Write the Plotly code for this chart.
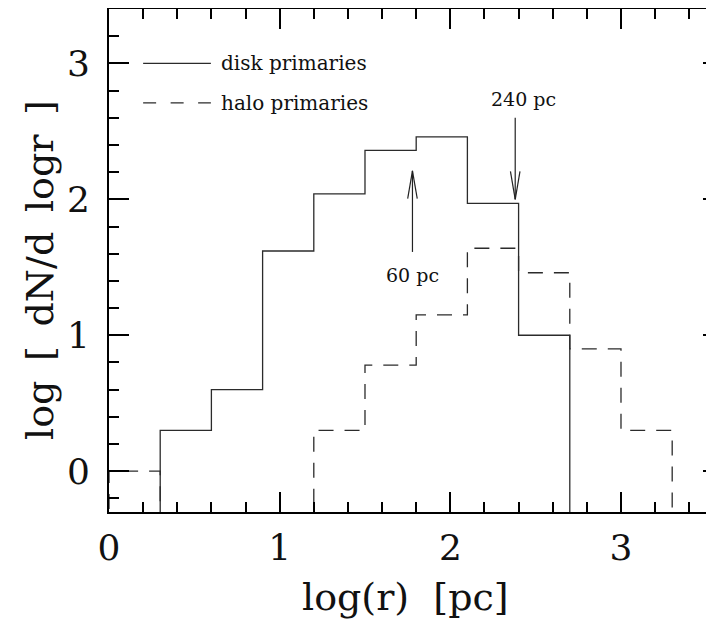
import math
import plotly.graph_objects as go

# ---------------- data ----------------
bin_edges = [0.0, 0.3, 0.6, 0.9, 1.2, 1.5, 1.8, 2.1, 2.4, 2.7, 3.0, 3.3]
disk_values = [None, 0.30, 0.60, 1.62, 2.04, 2.36, 2.46, 1.97, 1.00, None, None]
halo_values = [0.0, None, None, None, 0.30, 0.78, 1.15, 1.64, 1.46, 0.90, 0.30]
series_names = ["disk primaries", "halo primaries"]
x_tick_values = [0, 1, 2, 3]
y_tick_values = [0, 1, 2, 3]
marker_labels = ["240 pc", "60 pc"]
marker_radii_pc = [240, 60]

FLOOR = -2.0  # below the visible range (empty bins)
X_RANGE = [0, 3.545]
Y_RANGE = [-0.3, 3.4]
LINE_COLOR = "#2b2b2b"
SERIF = "DejaVu Serif"

# the page body has an 8px margin; size the figure so the plot lands where the reference has it
PAGE_OFFSET = 8


def step_path(edges, values):
    vals = [FLOOR if v is None else v for v in values]
    xs = [edges[0]] + list(edges[:-1]) + [edges[-1], edges[-1]]
    ys = [FLOOR] + vals + [vals[-1], FLOOR]
    return xs, ys


fig = go.Figure()

dx, dy = step_path(bin_edges, disk_values)
fig.add_trace(go.Scatter(x=dx, y=dy, mode="lines", line_shape="hv",
                         line=dict(color=LINE_COLOR, width=1.3),
                         name=series_names[0], showlegend=False))
hx, hy = step_path(bin_edges, halo_values)
fig.add_trace(go.Scatter(x=hx, y=hy, mode="lines", line_shape="hv",
                         line=dict(color=LINE_COLOR, width=1.3, dash="15px,11px"),
                         name=series_names[1], showlegend=False))
# dummy trace for the right-hand (partly cut) tick axis
fig.add_trace(go.Scatter(x=[], y=[], yaxis="y2", showlegend=False))

# ---------------- legend (drawn in the plot) ----------------
leg_x0, leg_x1, leg_tx = 0.20, 0.597, 0.645
leg_y = [3.0, 2.71]
leg_dash = ["solid", "13px,14.5px"]
for name, yv, dsh in zip(series_names, leg_y, leg_dash):
    fig.add_shape(type="line", xref="x", yref="y", x0=leg_x0, x1=leg_x1, y0=yv, y1=yv,
                  line=dict(color=LINE_COLOR, width=1.3, dash=dsh))
    fig.add_annotation(x=leg_tx, y=yv, xref="x", yref="y", text=name, showarrow=False,
                       xanchor="left", yanchor="middle",
                       font=dict(family=SERIF, size=20, color="#111"))

# ---------------- arrows ----------------
head_len = 0.205
head_half = 0.028
arrow_specs = [  # (stem start y, tip y, label y)
    (2.60, 2.00, 2.74),
    (1.613, 2.21, 1.446),
]
label_dx = [0.05, 0.0]
for lab, r, (y_start, y_tip, y_lab), ldx in zip(marker_labels, marker_radii_pc, arrow_specs, label_dx):
    xv = math.log10(r)
    sgn = 1 if y_start > y_tip else -1
    fig.add_shape(type="line", xref="x", yref="y", x0=xv, x1=xv, y0=y_start, y1=y_tip,
                  line=dict(color="#222", width=1.2))
    for s in (-1, 1):
        fig.add_shape(type="line", xref="x", yref="y", x0=xv + s * head_half,
                      y0=y_tip + sgn * head_len, x1=xv, y1=y_tip,
                      line=dict(color="#222", width=1.2))
    fig.add_annotation(x=xv + ldx, y=y_lab, xref="x", yref="y", text=lab, showarrow=False,
                       xanchor="center", yanchor="middle",
                       font=dict(family=SERIF, size=19, color="#111"))

# ---------------- axis titles ----------------
W, H = 714 - PAGE_OFFSET, 621 - PAGE_OFFSET
ML, MT, MB, MR = 109 - PAGE_OFFSET, 9 - PAGE_OFFSET, 109, 0
PW, PH = W - ML - MR, H - MT - MB


def px_to_paper(px, py):
    """window pixel -> paper coords"""
    fx = px - PAGE_OFFSET
    fy = py - PAGE_OFFSET
    return (fx - ML) / PW, (H - MB - fy) / PH


tx, ty = px_to_paper(405, 597)
fig.add_annotation(x=tx, y=ty, xref="paper", yref="paper", text="log(r)  [pc]",
                   showarrow=False, xanchor="center", yanchor="middle",
                   font=dict(family=SERIF, size=38, color="#111"))
tx, ty = px_to_paper(40, 270)
fig.add_annotation(x=tx, y=ty, xref="paper", yref="paper",
                   text="log\u00a0\u2009[\u00a0\u2009dN/d\u00a0\u2009logr\u00a0\u2009]",
                   showarrow=False, xanchor="center", yanchor="middle", textangle=-90,
                   font=dict(family=SERIF, size=38, color="#111"))

axis_common = dict(showgrid=False, zeroline=False, ticks="inside", tickcolor="black",
                   tickwidth=2, ticklen=20, linecolor="black", linewidth=2,
                   tickfont=dict(family=SERIF, size=36, color="#111"))

fig.update_layout(
    width=W, height=H,
    margin=dict(l=ML, r=MR, t=MT, b=MB),
    paper_bgcolor="white", plot_bgcolor="white",
    showlegend=False,
    xaxis=dict(range=X_RANGE, tickmode="array", tickvals=x_tick_values,
               showline=True, mirror="ticks",
               minor=dict(dtick=0.2, ticks="inside", ticklen=10, tickwidth=2, tickcolor="black"),
               ticklabelstandoff=3,
               **axis_common),
    yaxis=dict(range=Y_RANGE, tickmode="array", tickvals=y_tick_values,
               showline=True, mirror=False,
               minor=dict(dtick=0.2, tick0=0, ticks="inside", ticklen=10, tickwidth=2, tickcolor="black"),
               ticklabelstandoff=10,
               **axis_common),
    yaxis2=dict(range=Y_RANGE, overlaying="y", side="right", showgrid=False, zeroline=False,
                showline=False, showticklabels=False, ticks="inside", ticklen=11,
                tickwidth=2, tickcolor="black", tickmode="array", tickvals=y_tick_values,
                minor=dict(dtick=0.2, tick0=0, ticks="inside", ticklen=2, tickwidth=2,
                           tickcolor="black")),
)

fig.write_html("out.html")
